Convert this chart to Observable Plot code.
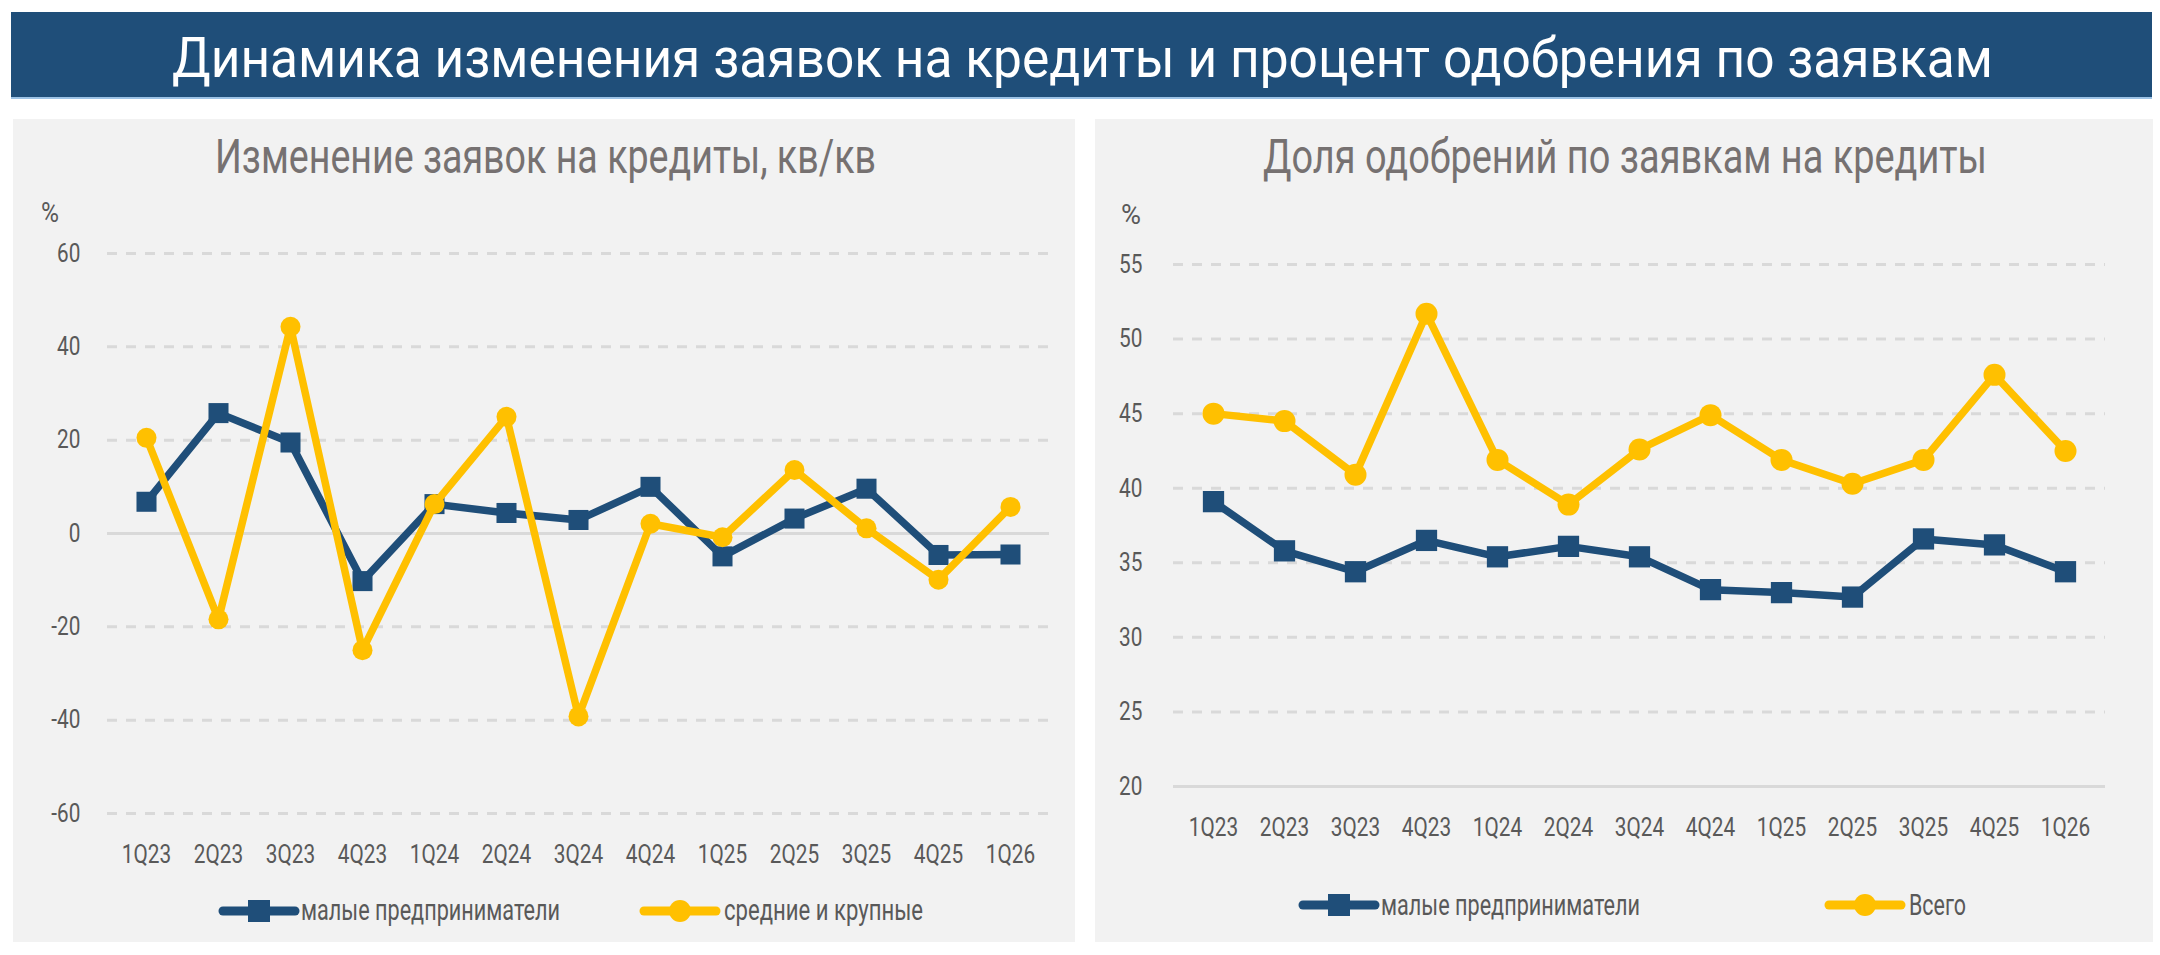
<!DOCTYPE html>
<html><head><meta charset="utf-8">
<script src="https://cdn.jsdelivr.net/npm/d3@7"></script>
<script src="https://cdn.jsdelivr.net/npm/@observablehq/plot@0.6"></script>
<style>
body{margin:0;background:#fff;width:2160px;height:955px;position:relative;overflow:hidden;font-family:Roboto,"Noto Sans",sans-serif;}
.banner{position:absolute;left:11px;top:12px;width:2141px;height:85px;background:#1F4E79;border-bottom:2px solid #9DC3E6;}
.panel{position:absolute;top:119px;height:823px;background:#F2F2F2;}
.fit{position:absolute;white-space:nowrap;line-height:1;font-family:Roboto,"Noto Sans",sans-serif;}
.sw{position:absolute;overflow:visible;}
</style></head><body>
<div class="banner"></div>
<div class="panel" id="left" style="left:13px;width:1062px;"></div>
<div class="panel" id="right" style="left:1095px;width:1058px;"></div>
<script>
// ---- data ----
const quarters = ["1Q23","2Q23","3Q23","4Q23","1Q24","2Q24","3Q24","4Q24","1Q25","2Q25","3Q25","4Q25","1Q26"];
const smallChange = [6.8, 25.8, 19.5, -10.2, 6.3, 4.4, 2.9, 10.0, -4.9, 3.2, 9.6, -4.6, -4.5];
const largeChange = [20.5, -18.4, 44.3, -25.0, 6.3, 25.0, -39.2, 2.1, -0.8, 13.6, 1.1, -9.9, 5.7];
const smallApproval = [39.1, 35.8, 34.4, 36.5, 35.4, 36.1, 35.4, 33.2, 33.0, 32.7, 36.6, 36.2, 34.4];
const totalApproval = [45.0, 44.5, 40.9, 51.7, 41.9, 38.9, 42.6, 44.9, 41.9, 40.3, 41.9, 47.6, 42.5];
const changeTicks = [-60, -40, -20, 0, 20, 40, 60];
const approvalTicks = [20, 25, 30, 35, 40, 45, 50, 55];
const mainTitle = "Динамика изменения заявок на кредиты и процент одобрения по заявкам";
const leftTitle = "Изменение заявок на кредиты, кв/кв";
const rightTitle = "Доля одобрений по заявкам на кредиты";
const unitLabel = "%";
const smallName = "малые предприниматели";
const largeName = "средние и крупные";
const totalName = "Всего";

const BLUE = "#1F4E79", GOLD = "#FFC000", GRID = "#D9D9D9", TICK = "#595959", SUB = "#767171";
const rows = (vals) => quarters.map((q, i) => ({q, v: vals[i]}));

function makeChart(el, {w, h, ml, mr, mt, mb, domain, ticks, base, s1, s2, r1, r2, pad}) {
  const svg = Plot.plot({
    width: w, height: h, marginLeft: ml, marginRight: mr, marginTop: mt, marginBottom: mb,
    style: {background: "transparent", fontFamily: "Roboto, 'Noto Sans', sans-serif", fontSize: "26px", color: TICK, overflow: "visible"},
    x: {type: "point", domain: quarters, padding: 0.5, label: null},
    y: {domain, label: null},
    marks: [
      Plot.ruleY(ticks.filter(d => d !== base), {stroke: GRID, strokeWidth: 3, strokeDasharray: "10,9"}),
      Plot.ruleY([base], {stroke: GRID, strokeWidth: 3}),
      Plot.axisY({ticks, tickSize: 0, tickPadding: pad, tickFormat: d => String(d)}),
      Plot.axisX({tickSize: 0, tickPadding: 31}),
      Plot.line(rows(s1), {x: "q", y: "v", stroke: BLUE, strokeWidth: 7.5, strokeLinejoin: "round", strokeLinecap: "round"}),
      Plot.dot(rows(s1), {x: "q", y: "v", symbol: "square", r: r1, fill: BLUE, stroke: "none"}),
      Plot.line(rows(s2), {x: "q", y: "v", stroke: GOLD, strokeWidth: 7.5, strokeLinejoin: "round", strokeLinecap: "round"}),
      Plot.dot(rows(s2), {x: "q", y: "v", r: r2, fill: GOLD, stroke: "none"})
    ]
  });
  el.appendChild(svg);
  svg.querySelectorAll('g[aria-label$="tick label"] text').forEach(t => {
    const len = t.getComputedTextLength();
    t.setAttribute("textLength", len * 0.8);
    t.setAttribute("lengthAdjust", "spacingAndGlyphs");
  });
}

makeChart(document.getElementById("left"), {
  w: 1062, h: 823, ml: 94, mr: 26, mt: 134, mb: 129,
  domain: [-60, 60], ticks: changeTicks, base: 0, pad: 27,
  s1: smallChange, s2: largeChange, r1: 11.3, r2: 10
});
makeChart(document.getElementById("right"), {
  w: 1058, h: 823, ml: 78, mr: 48, mt: 145, mb: 156,
  domain: [20, 55], ticks: approvalTicks, base: 20, pad: 31,
  s1: smallApproval, s2: totalApproval, r1: 12, r2: 11
});

// ---- text placement ----
function place(text, {left, center, baseline, fs, width, color}) {
  const s = document.createElement("span");
  s.className = "fit"; s.textContent = text;
  s.style.fontSize = fs + "px"; s.style.color = color;
  document.body.appendChild(s);
  const w0 = s.getBoundingClientRect().width;
  const tw = width || w0;
  const L = left !== undefined ? left : center - tw / 2;
  s.style.left = L + "px";
  s.style.top = (baseline - 0.842 * fs) + "px";
  s.style.transformOrigin = "0 0";
  s.style.transform = `scaleX(${tw / w0})`;
}
place(mainTitle, {center: 1082, baseline: 77, fs: 55, width: 1821, color: "#fff"});
place(leftTitle, {center: 545, baseline: 173, fs: 49, width: 661, color: SUB});
place(rightTitle, {center: 1625, baseline: 173, fs: 49, width: 724, color: SUB});
place(unitLabel, {left: 41, baseline: 223, fs: 28, width: 18, color: TICK});
place(unitLabel, {left: 1121, baseline: 225, fs: 28, width: 20, color: TICK});

function swatch(x, cy, color, square) {
  const ns = "http://www.w3.org/2000/svg";
  const s = document.createElementNS(ns, "svg");
  s.setAttribute("class", "sw");
  s.setAttribute("width", 78); s.setAttribute("height", 30);
  s.style.left = x + "px"; s.style.top = (cy - 15) + "px";
  const l = document.createElementNS(ns, "line");
  l.setAttribute("x1", 3); l.setAttribute("x2", 75); l.setAttribute("y1", 15); l.setAttribute("y2", 15);
  l.setAttribute("stroke", color); l.setAttribute("stroke-width", 9); l.setAttribute("stroke-linecap", "round");
  s.appendChild(l);
  let m;
  if (square) {
    m = document.createElementNS(ns, "rect");
    m.setAttribute("x", 28); m.setAttribute("y", 4); m.setAttribute("width", 22); m.setAttribute("height", 22);
  } else {
    m = document.createElementNS(ns, "circle");
    m.setAttribute("cx", 39); m.setAttribute("cy", 15); m.setAttribute("r", 11);
  }
  m.setAttribute("fill", color);
  s.appendChild(m);
  document.body.appendChild(s);
}
swatch(220, 911, BLUE, true);
place(smallName, {left: 301, baseline: 920.5, fs: 29, width: 259, color: TICK});
swatch(641, 911, GOLD, false);
place(largeName, {left: 724, baseline: 920.5, fs: 29, width: 199, color: TICK});
swatch(1300, 905, BLUE, true);
place(smallName, {left: 1381, baseline: 915, fs: 29, width: 259, color: TICK});
swatch(1826, 905, GOLD, false);
place(totalName, {left: 1909, baseline: 915, fs: 29, width: 57, color: TICK});
</script>
</body></html>
